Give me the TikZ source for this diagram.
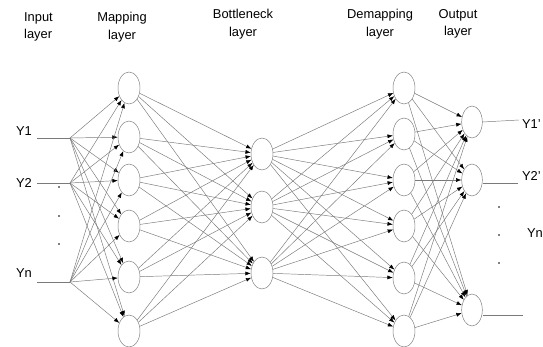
\documentclass[tikz,border=0pt]{standalone}
\usepackage{fontspec}
\setmainfont{Liberation Sans}
\usetikzlibrary{arrows.meta,shapes.geometric}
\definecolor{netgray}{HTML}{7A7A7A}

\begin{document}
\begin{tikzpicture}[x=0.03cm, y=-0.03cm,
    neuron/.style={ellipse, draw=netgray, line width=0.4pt, inner sep=0pt,
                   minimum width=0.66cm, minimum height=0.96cm, fill=white},
    layername/.style={align=center, font=\fontsize{11}{15}\selectfont},
    label/.style={font=\fontsize{11}{13}\selectfont},
    arrow/.style={-{Latex[length=1.6mm,width=1.2mm,color=black]}, draw=netgray, line width=0.4pt},
    wire/.style={draw=netgray, line width=0.4pt},
    dot/.style={circle, fill=black, inner sep=0pt, minimum size=1.6pt}
  ]
    \useasboundingbox (0,0) rectangle (543,347);

    % layer titles
    \node[layername, align=left, anchor=west] (tin)  at (20, 27) {Input\\layer};
    \node[layername] (tmap)  at (122, 27) {Mapping\\layer};
    \node[layername] (tbot)  at (243, 24) {Bottleneck\\layer};
    \node[layername] (tdem)  at (380, 24) {Demapping\\layer};
    \node[layername] (tout)  at (458, 24) {Output\\layer};

    % neurons
    \foreach \y [count=\i] in {88,137,180,226,277,331}
      \node[neuron] (m\i) at (129,\y) {};
    \foreach \y [count=\i] in {154,207,273}
      \node[neuron] (b\i) at (262,\y) {};
    \foreach \y [count=\i] in {88,134,180,226,278,331}
      \node[neuron] (d\i) at (404,\y) {};
    \foreach \y [count=\i] in {122,180,310}
      \node[neuron, minimum width=0.62cm] (o\i) at (472,\y) {};

    % inputs
    \node[label] (y1) at (24,131) {Y1};
    \node[label] (y2) at (24,183) {Y2};
    \node[label] (yn) at (24,273) {Yn};
    \coordinate (s1) at (37,138);  \coordinate (f1) at (70,138);
    \coordinate (s2) at (37,183);  \coordinate (f2) at (70,183);
    \coordinate (sn) at (37,282);  \coordinate (fn) at (70,282);
    \draw[wire] (s1) -- (f1);
    \draw[wire] (s2) -- (f2);
    \draw[wire] (sn) -- (fn);
    \node[dot] (ldot1) at (59,187) {};
    \node[dot] (ldot2) at (59,216) {};
    \node[dot] (ldot3) at (59,244) {};

    \foreach \f in {f1,f2,fn}
      \foreach \j in {1,...,6}
        \draw[arrow] (\f) -- (m\j);

    % hidden connections
    \foreach \i in {1,...,6}
      \foreach \j in {1,2,3}
        \draw[arrow] (m\i) -- (b\j);
    \foreach \i in {1,2,3}
      \foreach \j in {1,...,6}
        \draw[arrow] (b\i) -- (d\j);
    \foreach \i in {1,...,6}
      \foreach \j in {1,2,3}
        \draw[arrow] (d\i) -- (o\j);

    % outputs
    \coordinate (e1) at (519,120);
    \coordinate (e2) at (518,183);
    \coordinate (e3) at (523,315);
    \draw[wire] (o1.east) -- (e1);
    \draw[wire] (o2.east |- e2) -- (e2);
    \draw[wire] (o3.east |- e3) -- (e3);
    \node[label, anchor=west] (y1o) at (518,124) {Y1'};
    \node[label, anchor=west] (y2o) at (518,176) {Y2'};
    \node[label, anchor=west] (yno) at (523,233) {Yn};
    \node[dot] (rdot1) at (499,207) {};
    \node[dot] (rdot2) at (499,235) {};
    \node[dot] (rdot3) at (499,263) {};
\end{tikzpicture}
\end{document}
